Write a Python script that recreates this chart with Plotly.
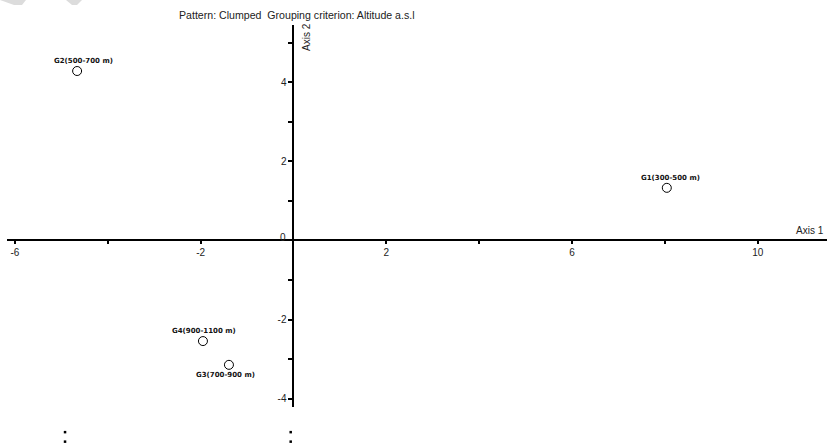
import plotly.graph_objects as go

# ---- data ----
groups = ["G1(300-500 m)", "G2(500-700 m)", "G3(700-900 m)", "G4(900-1100 m)"]
axis1 = [8.04, -4.66, -1.39, -1.95]
axis2 = [1.33, 4.28, -3.14, -2.54]

# stray marks at the bottom of the original figure (data coords)
dots_x = [-4.92, -4.92, -0.06, -0.06]
dots_y = [-4.84, -5.08, -4.84, -5.08]

x_tickvals = [-6, -2, 2, 6, 10]
x_ticktext = ["-6", "-2", "2", "6", "10"]
y_tickvals = [-4, -2, 0, 2, 4]
y_ticktext = ["-4", "-2", "", "2", "4"]
origin_label = "0"

title_text = "Pattern: Clumped\u00a0\u00a0Grouping criterion: Altitude a.s.l"

# ---- layout geometry ----
W, H = 833, 444
x_range = [-6.17, 11.49]
y_range = [-4.205, 5.442]
x_dom = [7 / W, 827 / W]
y_dom = [(H - 407) / H, (H - 25) / H]

# full-figure ranges for an invisible overlay subplot (same scale)
def full_range(rng, dom):
    span = (rng[1] - rng[0]) / (dom[1] - dom[0])
    lo = rng[0] - dom[0] * span
    return [lo, lo + span]

x_full = full_range(x_range, x_dom)
y_full = full_range(y_range, y_dom)

y0_frac = y_dom[0] + (0 - y_range[0]) / (y_range[1] - y_range[0]) * (y_dom[1] - y_dom[0])
x0_frac = x_dom[0] + (0 - x_range[0]) / (x_range[1] - x_range[0]) * (x_dom[1] - x_dom[0])

fig = go.Figure()

fig.add_trace(go.Scatter(
    x=axis1, y=axis2, mode="markers",
    marker=dict(symbol="circle-open", size=9, color="black", line=dict(width=1)),
    hoverinfo="text", text=groups, showlegend=False,
))

fig.add_trace(go.Scatter(
    x=dots_x, y=dots_y, mode="markers", xaxis="x2", yaxis="y2",
    marker=dict(symbol="square", size=2.5, color="black"),
    hoverinfo="skip", showlegend=False,
))

label_font = dict(family="DejaVu Sans", size=7, color="#111", weight="bold")
shifts = {"G1(300-500 m)": (4, 10), "G2(500-700 m)": (6, 10),
          "G3(700-900 m)": (-3, -10), "G4(900-1100 m)": (1, 10)}
for g, xv, yv in zip(groups, axis1, axis2):
    xs, ys = shifts[g]
    fig.add_annotation(x=xv, y=yv, text=g, showarrow=False, font=label_font,
                       xshift=xs, yshift=ys, xanchor="center", yanchor="middle")

txt_font = dict(family="Liberation Sans, Arial", size=10, color="#222")
fig.add_annotation(xref="paper", yref="paper", x=297 / W, y=1 - 15 / H, text=title_text,
                   showarrow=False, font=dict(family="Liberation Sans, Arial", size=10.6, color="#222"),
                   xanchor="center", yanchor="middle")
fig.add_annotation(xref="paper", yref="paper", x=826 / W, y=1 - 230 / H, text="Axis 1",
                   showarrow=False, font=txt_font, xanchor="right", yanchor="middle")
fig.add_annotation(xref="paper", yref="paper", x=306 / W, y=1 - 37 / H, text="Axis 2",
                   showarrow=False, font=txt_font, textangle=-90,
                   xanchor="center", yanchor="middle")

tick_font = dict(family="Liberation Sans, Arial", size=10, color="#222")
fig.add_annotation(x=0, y=0, text=origin_label, showarrow=False, font=tick_font,
                   xshift=-10, yshift=3, xanchor="center", yanchor="middle")

# faint grey artefacts at the top-left corner (pixel paths -> paper)
for poly in [[(0, 0), (26, 0), (22, 5), (14, 5)], [(66, 0), (82, 0), (77, 5), (72, 5)]]:
    path = " ".join(("M" if i == 0 else "L") + f" {px / W:.5f} {1 - py / H:.5f}"
                    for i, (px, py) in enumerate(poly)) + " Z"
    fig.add_shape(type="path", xref="paper", yref="paper", path=path,
                  fillcolor="#dcdcdc", line=dict(width=0))

fig.update_layout(
    width=W, height=H, margin=dict(l=0, r=0, t=0, b=0),
    paper_bgcolor="white", plot_bgcolor="rgba(0,0,0,0)",
    xaxis=dict(domain=x_dom, range=x_range, anchor="free", position=y0_frac,
               showgrid=False, zeroline=False, showline=True, linecolor="black", linewidth=2,
               ticks="outside", ticklen=3, tickwidth=1.5, tickcolor="black",
               tickmode="array", tickvals=x_tickvals, ticktext=x_ticktext, tickfont=tick_font,
               minor=dict(tick0=0, dtick=2, ticks="outside", ticklen=3, tickwidth=1.5,
                          tickcolor="black")),
    yaxis=dict(domain=y_dom, range=y_range, anchor="free", position=x0_frac,
               showgrid=False, zeroline=False, showline=True, linecolor="black", linewidth=2,
               ticks="outside", ticklen=4, tickwidth=1.5, tickcolor="black",
               tickmode="array", tickvals=y_tickvals, ticktext=y_ticktext, tickfont=tick_font,
               minor=dict(tick0=0, dtick=1, ticks="outside", ticklen=4, tickwidth=1.5,
                          tickcolor="black")),
    xaxis2=dict(domain=[0, 1], range=x_full, anchor="y2", visible=False, showgrid=False,
                zeroline=False),
    yaxis2=dict(domain=[0, 1], range=y_full, anchor="x2", visible=False, showgrid=False,
                zeroline=False),
)

fig.write_html("out.html", config={"displayModeBar": False},
               post_script="document.body.style.margin='0';document.body.style.overflow='hidden';")
